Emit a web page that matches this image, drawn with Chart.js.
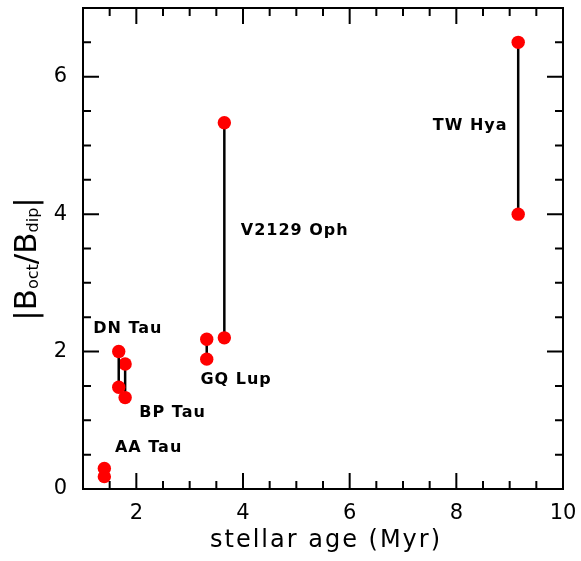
<!DOCTYPE html>
<html>
<head>
<meta charset="utf-8">
<script src="https://cdn.jsdelivr.net/npm/chart.js@4.4.0/dist/chart.umd.min.js"></script>
<style>
  html, body { margin: 0; padding: 0; background: #fff; }
</style>
</head>
<body>
<canvas id="ratioChart" width="581" height="561"></canvas>
<script>
// stars, their ages (Myr) and the two |Boct/Bdip| values measured for each
const stars = ["AA Tau", "DN Tau", "BP Tau", "GQ Lup", "V2129 Oph", "TW Hya"];
const ages = [1.4, 1.67, 1.79, 3.32, 3.65, 9.16];
const ratioHigh = [0.3, 2.0, 1.82, 2.18, 5.33, 6.5];
const ratioLow = [0.18, 1.48, 1.33, 1.89, 2.2, 4.0];
const xTickLabels = [2, 4, 6, 8, 10];
const yTickLabels = [0, 2, 4, 6];

// where the star names sit (data coords, text centre)
const namePos = {
  "AA Tau": [2.23, 0.60],
  "DN Tau": [1.84, 2.33],
  "BP Tau": [2.68, 1.11],
  "GQ Lup": [3.87, 1.59],
  "V2129 Oph": [4.97, 3.75],
  "TW Hya": [8.26, 5.29]
};

const datasets = stars.map((name, i) => ({
  label: name,
  data: [{ x: ages[i], y: ratioHigh[i] }, { x: ages[i], y: ratioLow[i] }],
  showLine: true,
  borderColor: "#000",
  borderWidth: 2.5,
  pointBackgroundColor: "#ff0000",
  pointBorderWidth: 0,
  pointRadius: 6.7,
  pointHoverRadius: 6.7
}));

// box, inward ticks on all four sides, titles, star names
const frame = {
  id: "frame",
  beforeDatasetsDraw(chart) {
    const ctx = chart.ctx;
    const a = chart.chartArea;
    const xs = chart.scales.x, ys = chart.scales.y;
    ctx.save();
    ctx.strokeStyle = "#000";
    ctx.lineWidth = 2;
    ctx.strokeRect(a.left, a.top, a.right - a.left, a.bottom - a.top);
    ctx.beginPath();
    for (let v = 1.5; v < 10; v += 0.5) {
      const len = v % 2 === 0 ? 16 : 8;
      const px = xs.getPixelForValue(v);
      ctx.moveTo(px, a.bottom); ctx.lineTo(px, a.bottom - len);
      ctx.moveTo(px, a.top); ctx.lineTo(px, a.top + len);
    }
    for (let v = 0.5; v < 7; v += 0.5) {
      const len = v % 2 === 0 ? 16 : 8;
      const py = ys.getPixelForValue(v);
      ctx.moveTo(a.left, py); ctx.lineTo(a.left + len, py);
      ctx.moveTo(a.right, py); ctx.lineTo(a.right - len, py);
    }
    ctx.stroke();

    // x title
    ctx.fillStyle = "#000";
    ctx.font = "24px 'DejaVu Sans'";
    ctx.letterSpacing = "2px";
    ctx.textAlign = "center";
    ctx.textBaseline = "alphabetic";
    ctx.fillText("stellar age (Myr)", (a.left + a.right) / 2 + 3, 547);

    // y title with subscripts, rotated
    ctx.letterSpacing = "0px";
    const parts = [["|B", 31, 0], ["oct", 16, 2], ["/B", 31, 0], ["dip", 16, 2], ["|", 31, 0]];
    let total = 0;
    parts.forEach(p => {
      ctx.font = p[1] + "px 'DejaVu Sans'";
      total += ctx.measureText(p[0]).width;
    });
    ctx.translate(36, 259);
    ctx.rotate(-Math.PI / 2);
    ctx.textAlign = "left";
    let x = -total / 2;
    parts.forEach(p => {
      ctx.font = p[1] + "px 'DejaVu Sans'";
      ctx.fillText(p[0], x, p[2]);
      x += ctx.measureText(p[0]).width;
    });
    ctx.restore();
  },
  afterDatasetsDraw(chart) {
    const ctx = chart.ctx;
    const xs = chart.scales.x, ys = chart.scales.y;
    ctx.save();
    ctx.fillStyle = "#000";
    ctx.font = "bold 16px 'DejaVu Sans'";
    ctx.letterSpacing = "1px";
    ctx.textAlign = "center";
    ctx.textBaseline = "middle";
    stars.forEach(name => {
      const p = namePos[name];
      ctx.fillText(name, xs.getPixelForValue(p[0]), ys.getPixelForValue(p[1]));
    });
    ctx.restore();
  }
};

new Chart(document.getElementById("ratioChart"), {
  type: "scatter",
  data: { datasets: datasets },
  options: {
    responsive: false,
    animation: false,
    layout: { padding: { top: 8, right: 18, left: 0, bottom: 0 } },
    plugins: { legend: { display: false }, tooltip: { enabled: false } },
    scales: {
      x: {
        type: "linear",
        min: 1,
        max: 10,
        afterBuildTicks: s => { s.ticks = xTickLabels.map(v => ({ value: v })); },
        afterFit: s => { s.height = 72; s.paddingLeft = 0; s.paddingRight = 0; },
        grid: { display: false },
        border: { display: false },
        ticks: { color: "#000", font: { family: "DejaVu Sans", size: 21 }, padding: 4, maxRotation: 0 }
      },
      y: {
        type: "linear",
        min: 0,
        max: 7,
        afterBuildTicks: s => { s.ticks = yTickLabels.map(v => ({ value: v })); },
        afterFit: s => { s.width = 83; s.paddingTop = 0; s.paddingBottom = 0; },
        grid: { display: false },
        border: { display: false },
        ticks: { color: "#000", font: { family: "DejaVu Sans", size: 21 }, padding: 8 }
      }
    }
  },
  plugins: [frame]
});
</script>
</body>
</html>
